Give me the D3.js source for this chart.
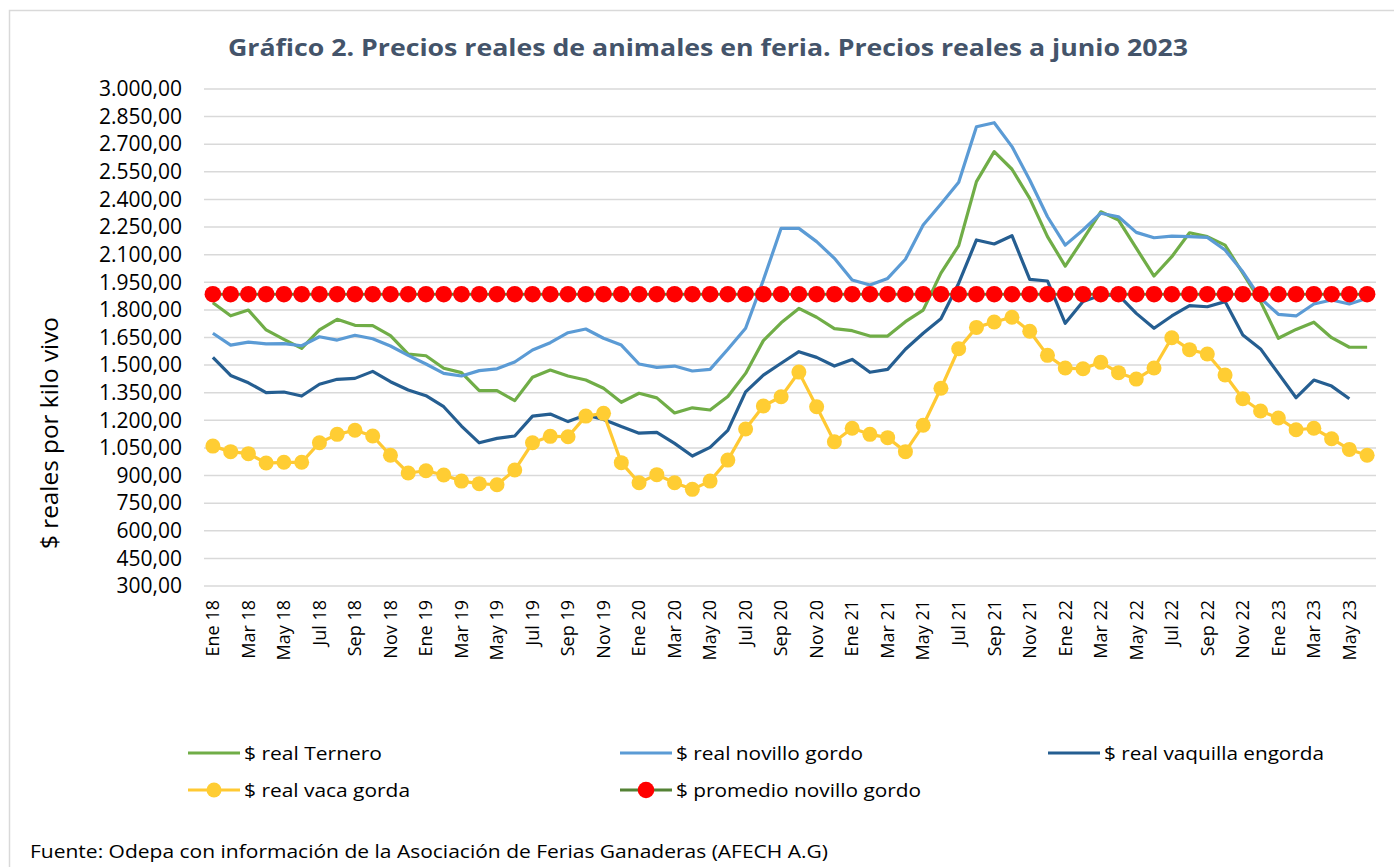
<!DOCTYPE html>
<html>
  <head>
    <meta charset="UTF-8">
    <title>Precios reales de animales en feria</title>
    <script src="https://d3js.org/d3.v7.min.js"></script>
    <style>
      body { margin: 0; background: #fff; }
      text { font-family: "Open Sans", sans-serif; }
    </style>
  </head>
  <body>
    <svg width="1394" height="867"></svg>
    <script>
      // Categories (monthly, Ene 18 .. Jun 23)
      var months = ["Ene", "Feb", "Mar", "Abr", "May", "Jun", "Jul", "Ago", "Sep", "Oct", "Nov", "Dic"];
      var years = ["18", "19", "20", "21", "22", "23"];
      var categories = [];
      years.forEach(function(y) {
        months.forEach(function(m) { categories.push(m + " " + y); });
      });
      categories = categories.slice(0, 66);

      // Series values ($ reales por kilo vivo)
      var ternero = [
        1839, 1768, 1799, 1691, 1640, 1591, 1691, 1749, 1716, 1714, 1660, 1560,
        1551, 1483, 1459, 1361, 1361, 1307, 1434, 1473, 1441, 1419, 1374, 1298,
        1347, 1322, 1240, 1268, 1256, 1330, 1455, 1633, 1730, 1808, 1760, 1698,
        1687, 1658, 1658, 1736, 1799, 2000, 2149, 2497, 2660, 2564, 2406, 2198,
        2038, 2183, 2333, 2288, 2135, 1984, 2089, 2219, 2198, 2152, 1999, 1845,
        1646, 1694, 1733, 1649, 1597, 1597
      ];
      var novillo = [
        1673, 1609, 1625, 1615, 1617, 1605, 1654, 1636, 1662, 1643, 1604, 1553,
        1506, 1455, 1441, 1470, 1480, 1517, 1582, 1622, 1676, 1696, 1646, 1609,
        1506, 1488, 1495, 1468, 1477, 1586, 1700, 1962, 2243, 2243, 2171, 2080,
        1962, 1935, 1971, 2075, 2261, 2375, 2493, 2795, 2817, 2687, 2506, 2306,
        2152, 2234, 2325, 2306, 2221, 2192, 2201, 2198, 2194, 2125, 2007, 1863,
        1776, 1767, 1832, 1854, 1832, 1863
      ];
      var vaquilla = [
        1542, 1444, 1404, 1350, 1354, 1332, 1396, 1423, 1428, 1466, 1410, 1365,
        1334, 1274, 1169, 1078, 1102, 1115, 1223, 1234, 1193, 1229, 1205, 1166,
        1130, 1135, 1075, 1006, 1053, 1145, 1355, 1446, 1510, 1573, 1542, 1495,
        1531, 1461, 1477, 1586, 1673, 1752, 1945, 2180, 2158, 2203, 1966, 1957,
        1727, 1845, 1880, 1880, 1781, 1700, 1767, 1823, 1817, 1845, 1664, 1588,
        1455, 1323, 1419, 1386, 1317, null
      ];
      var vaca = [
        1060, 1030, 1019, 968, 972, 972, 1078, 1124, 1146, 1115, 1010, 914,
        926, 903, 870, 856, 850, 930, 1078, 1113, 1111, 1223, 1238, 970,
        861, 905, 861, 825, 870, 984, 1153, 1278, 1328, 1462, 1274, 1084,
        1157, 1124, 1106, 1030, 1173, 1374, 1589, 1705, 1734, 1760, 1684, 1553,
        1484, 1480, 1515, 1459, 1424, 1484, 1649, 1584, 1560, 1446, 1317, 1251,
        1213, 1149, 1157, 1100, 1042, 1010
      ];
      var promedio = [
        1885, 1885, 1885, 1885, 1885, 1885, 1885, 1885, 1885, 1885, 1885, 1885,
        1885, 1885, 1885, 1885, 1885, 1885, 1885, 1885, 1885, 1885, 1885, 1885,
        1885, 1885, 1885, 1885, 1885, 1885, 1885, 1885, 1885, 1885, 1885, 1885,
        1885, 1885, 1885, 1885, 1885, 1885, 1885, 1885, 1885, 1885, 1885, 1885,
        1885, 1885, 1885, 1885, 1885, 1885, 1885, 1885, 1885, 1885, 1885, 1885,
        1885, 1885, 1885, 1885, 1885, 1885
      ];

      var yTicks = d3.range(300, 3001, 150);

      var svg = d3.select("svg");

      // outer frame
      svg.append("rect")
          .attr("x", 9.5).attr("y", 10.5)
          .attr("width", 1420).attr("height", 900)
          .attr("fill", "none")
          .attr("stroke", "#D9D9D9")
          .attr("stroke-width", 1.5);

      var plot = {left: 204, right: 1376, top: 89, bottom: 586};

      var x = d3.scaleBand()
          .domain(categories)
          .range([plot.left, plot.right]);
      var y = d3.scaleLinear()
          .domain([300, 3000])
          .range([plot.bottom, plot.top]);
      var cx = function(i) { return x(categories[i]) + x.bandwidth() / 2; };

      var locale = d3.formatLocale({decimal: ",", thousands: ".", grouping: [3], currency: ["$", ""]});
      var fmt = locale.format(",.2f");

      // grid lines
      svg.append("g")
          .selectAll("line")
          .data(yTicks)
          .join("line")
          .attr("x1", plot.left).attr("x2", plot.right)
          .attr("y1", function(d) { return y(d); })
          .attr("y2", function(d) { return y(d); })
          .attr("stroke", "#D9D9D9")
          .attr("stroke-width", 1.5);

      // y axis
      var yAxis = svg.append("g")
          .attr("transform", "translate(" + (plot.left - 22) + ",0)")
          .call(d3.axisLeft(y).tickValues(yTicks).tickFormat(fmt).tickSize(0));
      yAxis.select(".domain").remove();
      yAxis.selectAll("text")
          .attr("x", 0)
          .attr("fill", "#000")
          .style("font-size", "21px")
          .style("font-family", "'Open Sans', sans-serif");

      // x axis
      var xAxis = svg.append("g")
          .attr("transform", "translate(0," + plot.bottom + ")")
          .call(d3.axisBottom(x)
            .tickValues(categories.filter(function(d, i) { return i % 2 === 0; }))
            .tickSize(0));
      xAxis.select(".domain").remove();
      xAxis.selectAll("text")
          .attr("transform", "rotate(-90)")
          .attr("x", -14)
          .attr("y", 0)
          .attr("dy", "0.35em")
          .attr("text-anchor", "end")
          .attr("fill", "#000")
          .style("font-size", "18px")
          .style("font-family", "'Open Sans', sans-serif");

      // series lines
      var line = d3.line()
          .defined(function(d) { return d != null; })
          .x(function(d, i) { return cx(i); })
          .y(function(d) { return y(d); });

      var series = [
        {name: "$ real Ternero", values: ternero, color: "#70AD47", marker: null},
        {name: "$ real novillo gordo", values: novillo, color: "#5B9BD5", marker: null},
        {name: "$ real vaquilla engorda", values: vaquilla, color: "#255E91", marker: null},
        {name: "$ real vaca gorda", values: vaca, color: "#FFC933", marker: {fill: "#FFCD33", r: 7.5}},
        {name: "$ promedio novillo gordo", values: promedio, color: "#548235", marker: {fill: "#FF0000", r: 8.3}}
      ];

      series.forEach(function(s) {
        svg.append("path")
            .datum(s.values)
            .attr("fill", "none")
            .attr("stroke", s.color)
            .attr("stroke-width", 3.2)
            .attr("stroke-linejoin", "round")
            .attr("d", line);
        if (s.marker) {
          svg.append("g")
              .selectAll("circle")
              .data(s.values)
              .join("circle")
              .attr("cx", function(d, i) { return cx(i); })
              .attr("cy", function(d) { return y(d); })
              .attr("r", s.marker.r)
              .attr("fill", s.marker.fill);
        }
      });

      // title
      svg.append("text")
          .attr("x", 708).attr("y", 56)
          .attr("text-anchor", "middle")
          .attr("fill", "#44546A")
          .attr("textLength", 960)
          .attr("lengthAdjust", "spacingAndGlyphs")
          .style("font-size", "23px")
          .style("font-weight", "bold")
          .text("Gráfico 2. Precios reales de animales en feria. Precios reales a junio 2023");

      // y axis title
      svg.append("text")
          .attr("transform", "translate(58,433) rotate(-90)")
          .attr("text-anchor", "middle")
          .attr("fill", "#000")
          .attr("textLength", 232)
          .attr("lengthAdjust", "spacingAndGlyphs")
          .style("font-size", "23px")
          .text("$ reales por kilo vivo");

      // legend
      var legendPos = [
        {x: 188, y: 753, w: 138},
        {x: 620, y: 753, w: 187},
        {x: 1048, y: 753, w: 220},
        {x: 188, y: 790, w: 166},
        {x: 620, y: 790, w: 245}
      ];
      series.forEach(function(s, i) {
        var p = legendPos[i];
        var g = svg.append("g").attr("transform", "translate(" + p.x + "," + p.y + ")");
        g.append("line")
            .attr("x1", 0).attr("x2", 52)
            .attr("stroke", s.color)
            .attr("stroke-width", 3.2);
        if (s.marker) {
          g.append("circle")
              .attr("cx", 26)
              .attr("r", s.marker.r)
              .attr("fill", s.marker.fill);
        }
        g.append("text")
            .attr("x", 56).attr("y", 7)
            .attr("fill", "#000")
            .attr("textLength", p.w)
            .attr("lengthAdjust", "spacingAndGlyphs")
            .style("font-size", "19px")
            .text(s.name);
      });

      // source note
      svg.append("text")
          .attr("x", 30).attr("y", 858)
          .attr("fill", "#000")
          .attr("textLength", 798)
          .attr("lengthAdjust", "spacingAndGlyphs")
          .style("font-size", "18px")
          .text("Fuente: Odepa con información de la Asociación de Ferias Ganaderas (AFECH A.G)");
    </script>
  </body>
</html>
